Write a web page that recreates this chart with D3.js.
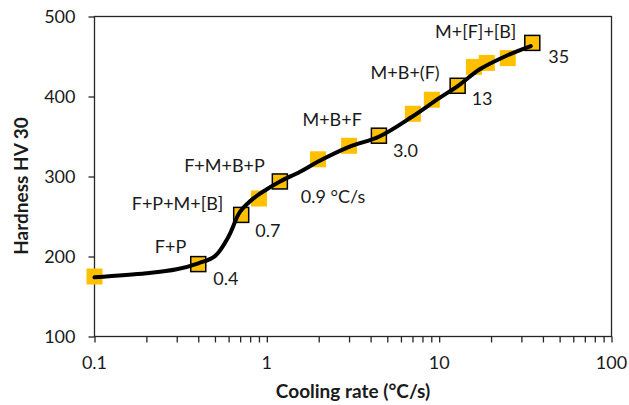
<!DOCTYPE html>
<html>
<head>
<meta charset="utf-8">
<script src="https://cdn.jsdelivr.net/npm/d3@7"></script>
<style>
  html, body { margin: 0; padding: 0; background: #fff; }
  svg { display: block; }
  text { font-family: Lato, "Open Sans", sans-serif; fill: #1a1a1a; }
</style>
</head>
<body>
<svg id="chart" width="629" height="405"></svg>
<script>
// ---- data ----
const rates    = [0.1, 0.4, 0.71, 0.9, 1.19, 1.98, 3.0, 4.47, 7.04, 9.07, 12.8, 15.9, 18.9, 25.0, 34.7];
const hardness = [175, 190.5, 252, 272.5, 293.8, 321.5, 338.4, 351, 378.4, 396, 413.4, 437, 442, 448, 467];
const bordered = [false, true, true, false, true, false, false, true, false, false, true, false, false, false, true];

const fitRates    = [0.1, 0.2, 0.3, 0.4, 0.5, 0.6, 0.7, 0.84, 1.0, 1.2, 1.56, 2.0, 3.0, 4.5, 7.0, 10, 13, 17.2, 24.6, 34];
const fitHardness = [174, 179, 184, 191.5, 200.5, 225, 256, 273, 284, 294, 306, 319, 337, 350, 375, 398, 414, 434, 451, 463];

const phaseLabels = ["F+P", "F+P+M+[B]", "F+M+B+P", "M+B+F", "M+B+(F)", "M+[F]+[B]"];
const rateLabels  = ["0.4", "0.7", "0.9 °C/s", "3.0", "13", "35"];

const xTicks = [0.1, 1, 10, 100];
const xTickLabels = ["0.1", "1", "10", "100"];
const yTicks = [100, 200, 300, 400, 500];

const xTitle = "Cooling rate (°C/s)";
const yTitle = "Hardness HV 30";

// ---- layout ----
const L = 94.5, R = 611.5, T = 16.5, B = 336.5;
const svg = d3.select("#chart");

const x = d3.scaleLog().domain([0.1, 100]).range([L, R]);
const y = d3.scaleLinear().domain([100, 500]).range([B, T]);

const axisColor = "#262626";

// minor ticks for log axis
const allXTicks = [];
for (let d = 0.1; d < 100; d *= 10) {
  for (let k = 1; k <= 9; k++) allXTicks.push(+(d * k).toPrecision(3));
}
allXTicks.push(100);

// x axis
const xAxis = d3.axisBottom(x).tickValues(allXTicks).tickSize(6).tickFormat(() => "");
const gx = svg.append("g").attr("transform", `translate(0,${B})`).call(xAxis);
gx.select(".domain").remove();
gx.selectAll(".tick line").attr("stroke", axisColor).attr("stroke-width", 1.3);

svg.append("g").selectAll("text").data(xTicks).join("text")
  .attr("x", d => x(d)).attr("y", 369)
  .attr("text-anchor", "middle").attr("font-size", 18)
  .text((d, i) => xTickLabels[i]);

// y axis
const yAxis = d3.axisLeft(y).tickValues(yTicks).tickSize(6).tickFormat(() => "");
const gy = svg.append("g").attr("transform", `translate(${L},0)`).call(yAxis);
gy.select(".domain").remove();
gy.selectAll(".tick line").attr("stroke", axisColor).attr("stroke-width", 1.3);

svg.append("g").selectAll("text").data(yTicks).join("text")
  .attr("x", 75.5).attr("y", d => y(d)).attr("dy", "0.36em")
  .attr("text-anchor", "end").attr("font-size", 18)
  .text(d => d);

// frame
svg.append("rect").attr("x", L).attr("y", T).attr("width", R - L).attr("height", B - T)
  .attr("fill", "none").attr("stroke", axisColor).attr("stroke-width", 1.3);

// markers
const pts = rates.map((r, i) => ({ r, h: hardness[i], b: bordered[i] }));
const S = 15;
svg.append("g").selectAll("rect").data(pts.filter(p => !p.b)).join("rect")
  .attr("x", p => x(p.r) - S / 2 - 0.5).attr("y", p => y(p.h) - S / 2 - 0.5)
  .attr("width", S + 1).attr("height", S + 1)
  .attr("fill", "#FFC000");
svg.append("g").selectAll("rect").data(pts.filter(p => p.b)).join("rect")
  .attr("x", p => x(p.r) - S / 2).attr("y", p => y(p.h) - S / 2)
  .attr("width", S).attr("height", S)
  .attr("fill", "#FFC000").attr("stroke", "#000").attr("stroke-width", 1.5);

// fitted curve
const fit = fitRates.map((r, i) => [r, fitHardness[i]]);
const line = d3.line().x(d => x(d[0])).y(d => y(d[1])).curve(d3.curveCatmullRom.alpha(0.5));
svg.append("path").datum(fit).attr("d", line)
  .attr("fill", "none").attr("stroke", "#000").attr("stroke-width", 4)
  .attr("stroke-linecap", "round").attr("stroke-linejoin", "round");

// annotations at bordered points
const labelled = pts.filter(p => p.b);
const phaseOff = [[-12, -11], [-18, -5], [-15, -9], [-17, -10], [-18, -7], [-16, -5]];
const rateOff  = [[15, 21], [14, 22], [21, 22], [14, 21], [14, 19], [16, 20]];
svg.append("g").selectAll("text").data(labelled).join("text")
  .attr("x", (p, i) => x(p.r) + phaseOff[i][0])
  .attr("y", (p, i) => y(p.h) + phaseOff[i][1])
  .attr("text-anchor", "end").attr("font-size", 18)
  .text((p, i) => phaseLabels[i]);
svg.append("g").selectAll("text").data(labelled).join("text")
  .attr("x", (p, i) => x(p.r) + rateOff[i][0])
  .attr("y", (p, i) => y(p.h) + rateOff[i][1])
  .attr("text-anchor", "start").attr("font-size", 18)
  .text((p, i) => rateLabels[i]);

// axis titles
svg.append("text").attr("x", (L + R) / 2).attr("y", 398)
  .attr("text-anchor", "middle").attr("font-size", 19).attr("font-weight", "bold")
  .text(xTitle);
svg.append("text").attr("transform", "translate(28,186) rotate(-90)")
  .attr("text-anchor", "middle").attr("font-size", 19).attr("font-weight", "bold")
  .text(yTitle);
</script>
</body>
</html>
